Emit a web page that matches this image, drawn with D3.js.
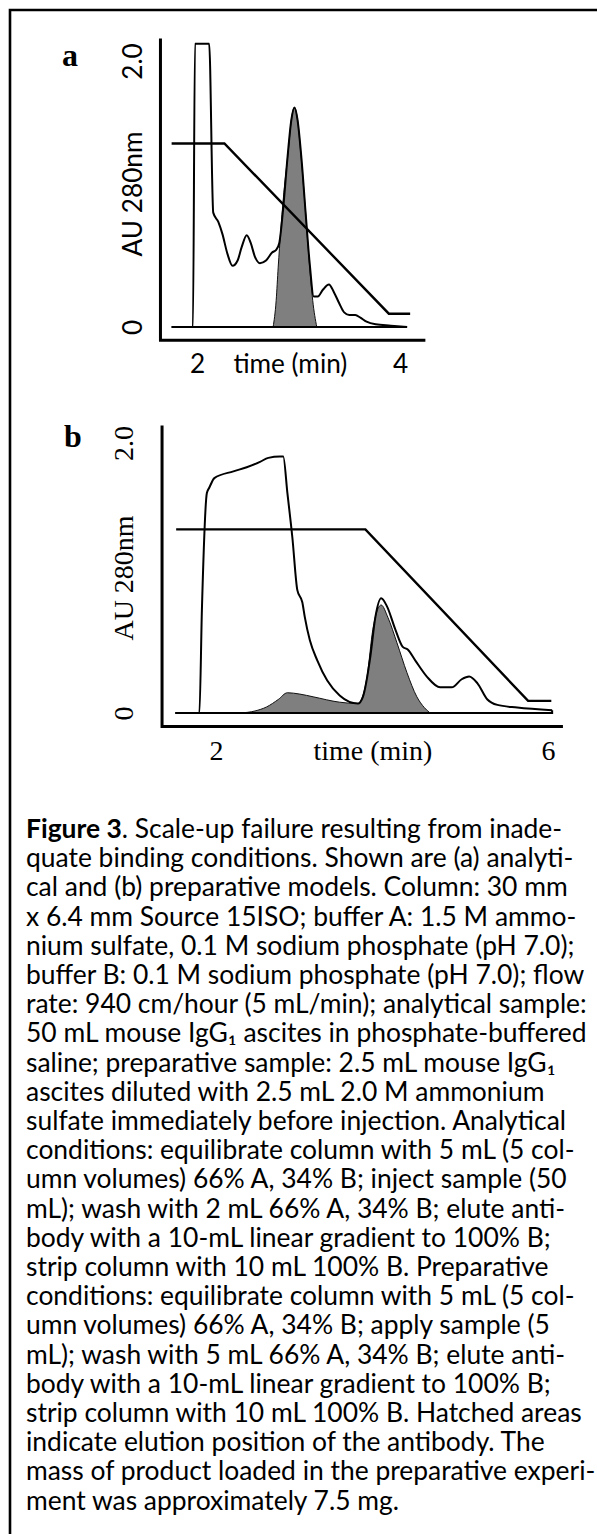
<!DOCTYPE html>
<html><head><meta charset="utf-8">
<script src="https://cdn.jsdelivr.net/npm/d3@7"></script>
<style>
html,body{margin:0;padding:0;background:#fff;}
svg{display:block;}
text{white-space:pre;}
</style></head><body>
<svg id="fig" width="597" height="1534"></svg>
<script>
// ---------------- data ----------------
const timeTicksA = [2, 4];
const timeTicksB = [2, 6];
const auTicks = [0, 2];
const auTickLabels = ["0", "2.0"];
const yTitle = "AU 280nm";
const xTitle = "time (min)";
const xTitleTimeA = 2.92;
const xTitleTimeB = 3.89;
const yTitleAu = 1.0;

// panel a (analytical): [time (min), AU 280nm]
const traceA = [[1.75,0],[1.96,0],[1.98,2.13],[2.12,2.13],[2.16,0.86],[2.21,0.79],[2.25,0.70],[2.30,0.55],[2.35,0.46],[2.40,0.50],[2.44,0.60],[2.49,0.69],[2.53,0.63],[2.57,0.53],[2.62,0.48],[2.68,0.50],[2.74,0.56],[2.78,0.58],[2.81,0.63],[2.85,0.90],[2.89,1.26],[2.93,1.56],[2.96,1.65],[2.99,1.56],[3.03,1.26],[3.07,0.86],[3.11,0.48],[3.15,0.23],[3.19,0.23],[3.24,0.28],[3.30,0.32],[3.35,0.26],[3.40,0.18],[3.45,0.11],[3.50,0.09],[3.56,0.09],[3.61,0.07],[3.67,0.04],[3.76,0.02],[3.91,0.01],[4.07,0]];
const antibodyA = [[2.75,0],[2.78,0.20],[2.80,0.45],[2.85,0.96],[2.90,1.33],[2.93,1.56],[2.96,1.65],[2.99,1.56],[3.02,1.33],[3.06,0.96],[3.11,0.45],[3.14,0.20],[3.18,0]];
const gradientA = [[1.75,1.38],[2.27,1.38],[3.89,0.10],[4.10,0.10]];
const baselineA = [[1.75,0],[4.07,0]];
const axisTimeA = [1.64, 4.25];
const axisAuA = [-0.10, 2.17];

// panel b (preparative)
const traceB = [[1.51,0],[1.80,0],[1.83,0.76],[1.89,1.63],[1.92,1.67],[1.98,1.74],[2.21,1.79],[2.37,1.82],[2.53,1.86],[2.63,1.89],[2.77,1.90],[2.81,1.90],[2.86,1.63],[2.92,1.30],[2.98,0.91],[3.04,0.82],[3.07,0.71],[3.13,0.54],[3.22,0.39],[3.34,0.24],[3.49,0.13],[3.71,0.07],[3.77,0.12],[3.86,0.42],[3.92,0.71],[3.99,0.85],[4.06,0.79],[4.16,0.62],[4.25,0.49],[4.31,0.47],[4.40,0.39],[4.54,0.27],[4.70,0.19],[4.84,0.19],[4.96,0.25],[5.05,0.27],[5.15,0.22],[5.27,0.10],[5.39,0.06],[5.63,0.04],[6.05,0.02]];
const antibodyB = [[2.29,0],[2.47,0.015],[2.61,0.045],[2.75,0.10],[2.86,0.15],[3.01,0.14],[3.17,0.12],[3.49,0.08],[3.71,0.07],[3.82,0.27],[3.89,0.62],[3.99,0.80],[4.07,0.71],[4.18,0.52],[4.30,0.30],[4.42,0.12],[4.51,0.04],[4.58,0]];
const gradientB = [[1.52,1.36],[3.80,1.36],[5.76,0.09],[6.04,0.09]];
const baselineB = [[1.51,0],[6.05,0],[6.05,0.02]];
const axisTimeB = [1.35, 6.18];
const axisAuB = [-0.10, 2.13];

const captionLines = [
 "**Figure 3**. Scale-up failure resulting from inade-",
 "quate binding conditions. Shown are (a) analyti-",
 "cal and (b) preparative models. Column: 30 mm",
 "x 6.4 mm Source 15ISO; buffer A: 1.5 M ammo-",
 "nium sulfate, 0.1 M sodium phosphate (pH 7.0);",
 "buffer B: 0.1 M sodium phosphate (pH 7.0); flow",
 "rate: 940 cm/hour (5 mL/min); analytical sample:",
 "50 mL mouse IgG₁ ascites in phosphate-buffered",
 "saline; preparative sample: 2.5 mL mouse IgG₁",
 "ascites diluted with 2.5 mL 2.0 M ammonium",
 "sulfate immediately before injection. Analytical",
 "conditions: equilibrate column with 5 mL (5 col-",
 "umn volumes) 66% A, 34% B; inject sample (50",
 "mL); wash with 2 mL 66% A, 34% B; elute anti-",
 "body with a 10-mL linear gradient to 100% B;",
 "strip column with 10 mL 100% B. Preparative",
 "conditions: equilibrate column with 5 mL (5 col-",
 "umn volumes) 66% A, 34% B; apply sample (5",
 "mL); wash with 5 mL 66% A, 34% B; elute anti-",
 "body with a 10-mL linear gradient to 100% B;",
 "strip column with 10 mL 100% B. Hatched areas",
 "indicate elution position of the antibody. The",
 "mass of product loaded in the preparative experi-",
 "ment was approximately 7.5 mg."
];

// ---------------- drawing ----------------
const svg = d3.select("#fig");
const measure = svg.append("g").attr("visibility", "hidden");
function fitSize(family, weight, text, target) {
  const t = measure.append("text").attr("font-family", family).attr("font-weight", weight)
    .attr("font-size", 100).text(text);
  const w = t.node().getComputedTextLength();
  t.remove();
  return 100 * target / w;
}

// frame (cropped box: top and left edges visible)
svg.append("path").attr("d", "M10,1534 V10 H597").attr("fill", "none")
  .attr("stroke", "#000").attr("stroke-width", 2.6);

function drawPanel(cfg) {
  const x = cfg.x, y = cfg.y;
  const g = svg.append("g");
  const line = d3.line().x(d => x(d[0])).y(d => y(d[1]));
  const smooth = d3.line().x(d => x(d[0])).y(d => y(d[1])).curve(d3.curveMonotoneX);
  const area = d3.area().x(d => x(d[0])).y0(y(0)).y1(d => y(d[1])).curve(d3.curveMonotoneX);

  // hatched (antibody) area
  g.append("path").datum(cfg.antibody).attr("d", area)
    .attr("fill", "#7f7f7f").attr("stroke", "#111").attr("stroke-width", 1);
  // baseline
  g.append("path").datum(cfg.baseline).attr("d", line)
    .attr("fill", "none").attr("stroke", "#000").attr("stroke-width", 2);
  // trace
  g.append("path").datum(cfg.trace).attr("d", smooth)
    .attr("fill", "none").attr("stroke", "#000").attr("stroke-width", 2).attr("stroke-linejoin", "round");
  // gradient
  g.append("path").datum(cfg.gradient).attr("d", line)
    .attr("fill", "none").attr("stroke", "#000").attr("stroke-width", 2.4);

  // axis lines
  const axisPts = [[cfg.axisTime[0], cfg.axisAu[1]], [cfg.axisTime[0], cfg.axisAu[0]], [cfg.axisTime[1], cfg.axisAu[0]]];
  g.append("path").datum(axisPts).attr("d", line)
    .attr("fill", "none").attr("stroke", "#000").attr("stroke-width", 3).attr("stroke-linejoin", "miter");

  const axisX = x(cfg.axisTime[0]);
  const axisY = y(cfg.axisAu[0]);

  // y axis labels (rotated)
  const gy = g.append("g").attr("transform", `translate(${axisX},0)`)
    .call(d3.axisLeft(y).tickValues(auTicks).tickSize(0).tickFormat((d, i) => auTickLabels[i]));
  gy.select(".domain").remove();
  gy.selectAll(".tick line").remove();
  gy.selectAll(".tick text")
    .attr("x", 0).attr("y", 0).attr("dy", "0.35em")
    .attr("text-anchor", "middle")
    .attr("transform", `translate(${-cfg.yLabelOffset},0) rotate(-90)`)
    .attr("font-family", cfg.font).attr("font-size", cfg.fontSize).attr("fill", "#000");
  gy.append("text")
    .attr("transform", `translate(${-cfg.yLabelOffset},${y(yTitleAu)}) rotate(-90)`)
    .attr("dy", "0.35em").attr("text-anchor", "middle")
    .attr("font-family", cfg.font).attr("font-size", cfg.fontSize).attr("fill", "#000")
    .text(yTitle);

  // x axis labels
  const gx = g.append("g").attr("transform", `translate(0,${axisY})`)
    .call(d3.axisBottom(x).tickValues(cfg.timeTicks).tickSize(0).tickFormat(d3.format("d")));
  gx.select(".domain").remove();
  gx.selectAll(".tick line").remove();
  gx.selectAll(".tick text").attr("y", 24).attr("dy", "0.35em")
    .attr("font-family", cfg.font).attr("font-size", cfg.fontSize).attr("fill", "#000");
  gx.append("text").attr("x", x(cfg.xTitleTime)).attr("y", 24).attr("dy", "0.35em")
    .attr("text-anchor", "middle")
    .attr("font-family", cfg.font).attr("font-size", cfg.fontSize).attr("fill", "#000")
    .text(xTitle);

  // panel letter
  g.append("text").attr("x", cfg.letterPos[0]).attr("y", cfg.letterPos[1])
    .attr("font-family", "'Liberation Serif', serif").attr("font-weight", 700)
    .attr("font-size", 32).attr("fill", "#000").text(cfg.letter);
}

const fontA = "Lato, 'Open Sans', sans-serif";
const fontB = "'Liberation Serif', serif";

drawPanel({
  letter: "a", letterPos: [62, 66],
  x: d3.scaleLinear().domain([2, 4]).range([197, 400]),
  y: d3.scaleLinear().domain([0, 2]).range([327, 61]),
  trace: traceA, antibody: antibodyA, gradient: gradientA, baseline: baselineA,
  axisTime: axisTimeA, axisAu: axisAuA, timeTicks: timeTicksA, xTitleTime: xTitleTimeA,
  yLabelOffset: 27.5,
  font: fontA, fontSize: fitSize(fontA, 400, yTitle, 125)
});

drawPanel({
  letter: "b", letterPos: [64, 447],
  x: d3.scaleLinear().domain([2, 6]).range([216, 548]),
  y: d3.scaleLinear().domain([0, 2]).range([713, 443]),
  trace: traceB, antibody: antibodyB, gradient: gradientB, baseline: baselineB,
  axisTime: axisTimeB, axisAu: axisAuB, timeTicks: timeTicksB, xTitleTime: xTitleTimeB,
  yLabelOffset: 39,
  font: fontB, fontSize: fitSize(fontB, 400, yTitle, 125)
});

// caption
const capFont = "Lato, 'Open Sans', sans-serif";
const capSize = fitSize(capFont, 400, captionLines[20], 556);
const capG = svg.append("g").attr("font-family", capFont).attr("font-size", capSize).attr("fill", "#000");
const lineY = d3.scaleLinear().domain([0, 1]).range([838, 867.2]);
captionLines.forEach((ln, i) => {
  const t = capG.append("text").attr("x", 26).attr("y", lineY(i));
  const parts = ln.split(/(\*\*[^*]+\*\*)/).filter(s => s.length);
  parts.forEach(p => {
    if (p.startsWith("**")) {
      t.append("tspan").attr("font-weight", 700).text(p.slice(2, -2));
    } else {
      t.append("tspan").text(p);
    }
  });
});
</script>
</body></html>
